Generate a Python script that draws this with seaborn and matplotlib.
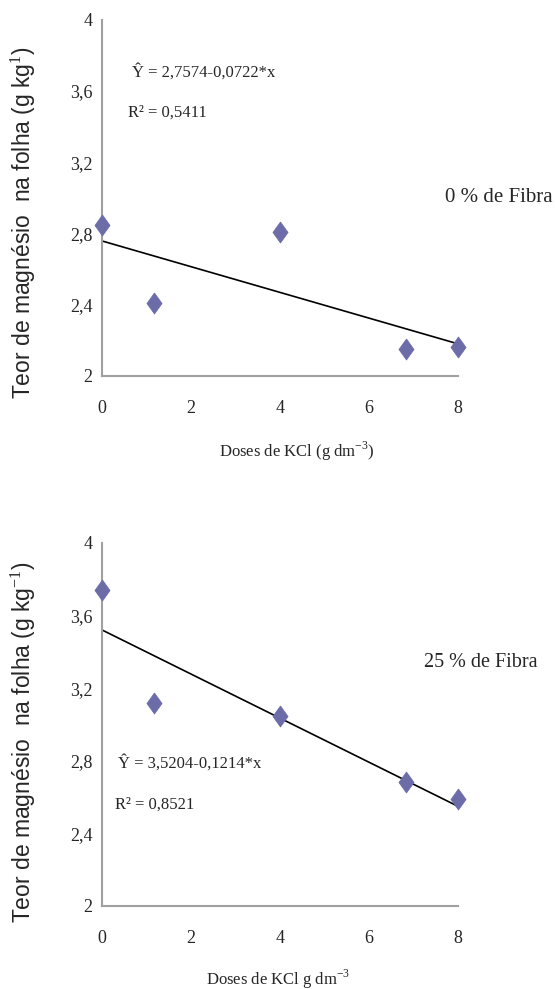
import numpy as np
import matplotlib
matplotlib.use("Agg")
import matplotlib.pyplot as plt
import pandas as pd
import seaborn as sns

# doses de KCl (g dm-3) e teor de Mg na folha (g kg-1)
doses = [0, 1.17, 4, 6.83, 8]
mg_0 = [2.85, 2.41, 2.81, 2.15, 2.16]
mg_25 = [3.74, 3.12, 3.045, 2.685, 2.59]

# coeficientes das regressoes
coef_0 = (2.7574, -0.0722)
coef_25 = (3.5204, -0.1214)

yticks = [2, 2.4, 2.8, 3.2, 3.6, 4]
ytick_labels = ["2", "2,4", "2,8", "3,2", "3,6", "4"]
xticks = [0, 2, 4, 6, 8]

sns.set_style("white")
plt.rcParams["font.family"] = ["Liberation Serif", "DejaVu Serif"]
plt.rcParams["mathtext.fontset"] = "custom"
plt.rcParams["mathtext.rm"] = "Liberation Serif"

diamond = [(0, 1), (0.72, 0), (0, -1), (-0.72, 0), (0, 1)]
cor = "#6b6ca8"
cinza = "#a0a0a0"

fig = plt.figure(figsize=(5.55, 9.89), dpi=100)
ax1 = fig.add_axes([0.184, 0.620, 0.641, 0.360])
ax2 = fig.add_axes([0.184, 0.084, 0.641, 0.367])


def painel(ax, y, coef, fibra, eq, r2, xlab, ylab, pos_fib, pos_eq, pos_r2, fs_fib):
    df = pd.DataFrame({"dose": doses, "mg": y})
    xl = np.array([0, 8])
    linha = pd.DataFrame({"dose": xl, "mg": coef[0] + coef[1] * xl})
    sns.lineplot(data=linha, x="dose", y="mg", ax=ax, color="black", lw=1.2)
    sns.scatterplot(data=df, x="dose", y="mg", ax=ax, marker=diamond, s=230,
                    color=cor, edgecolor=cor, linewidth=0.5, zorder=3, clip_on=False)
    ax.set_xlim(0, 8)
    ax.set_ylim(2, 4)
    ax.set_xticks(xticks)
    ax.set_xticklabels([str(t) for t in xticks], fontsize=13)
    ax.set_yticks(yticks)
    ax.set_yticklabels(ytick_labels, fontsize=13)
    for s in ["top", "right"]:
        ax.spines[s].set_visible(False)
    for s in ["left", "bottom"]:
        ax.spines[s].set_color(cinza)
        ax.spines[s].set_linewidth(1.5)
    ax.tick_params(axis="x", direction="inout", length=7, width=1.2, color=cinza, pad=14)
    ax.tick_params(axis="y", direction="out", length=4, width=1.2, color=cinza, pad=3)
    ax.set_xlabel(xlab, fontsize=12)
    ax.set_ylabel(ylab, fontsize=16.5, family=["Liberation Sans", "DejaVu Sans"])
    ax.text(pos_fib[0], pos_fib[1], fibra, fontsize=fs_fib, va="center", transform=ax.transAxes)
    ax.text(pos_eq[0], pos_eq[1], eq, fontsize=12, va="center", transform=ax.transAxes)
    ax.text(pos_r2[0], pos_r2[1], r2, fontsize=12, va="center", transform=ax.transAxes)


painel(ax1, mg_0, coef_0, "0 % de Fibra", "Ŷ = 2,7574-0,0722*x", "R² = 0,5411",
       "Doses de KCl (g dm$^{-3}$)", "Teor de magnésio  na folha (g kg$^{1}$)",
       (0.965, 0.50), (0.084, 0.854), (0.073, 0.739), 15)
painel(ax2, mg_25, coef_25, "25 % de Fibra", "Ŷ = 3,5204-0,1214*x", "R² = 0,8521",
       "Doses de KCl g dm$^{-3}$", "Teor de magnésio  na folha (g kg$^{-1}$)",
       (0.905, 0.672), (0.045, 0.394), (0.037, 0.278), 14.5)

ax1.xaxis.set_label_coords(0.548, -0.18)
ax2.xaxis.set_label_coords(0.495, -0.17)
ax1.yaxis.set_label_coords(-0.18, 0.43)
ax2.yaxis.set_label_coords(-0.18, 0.45)

fig.savefig("out.png", dpi=100)
